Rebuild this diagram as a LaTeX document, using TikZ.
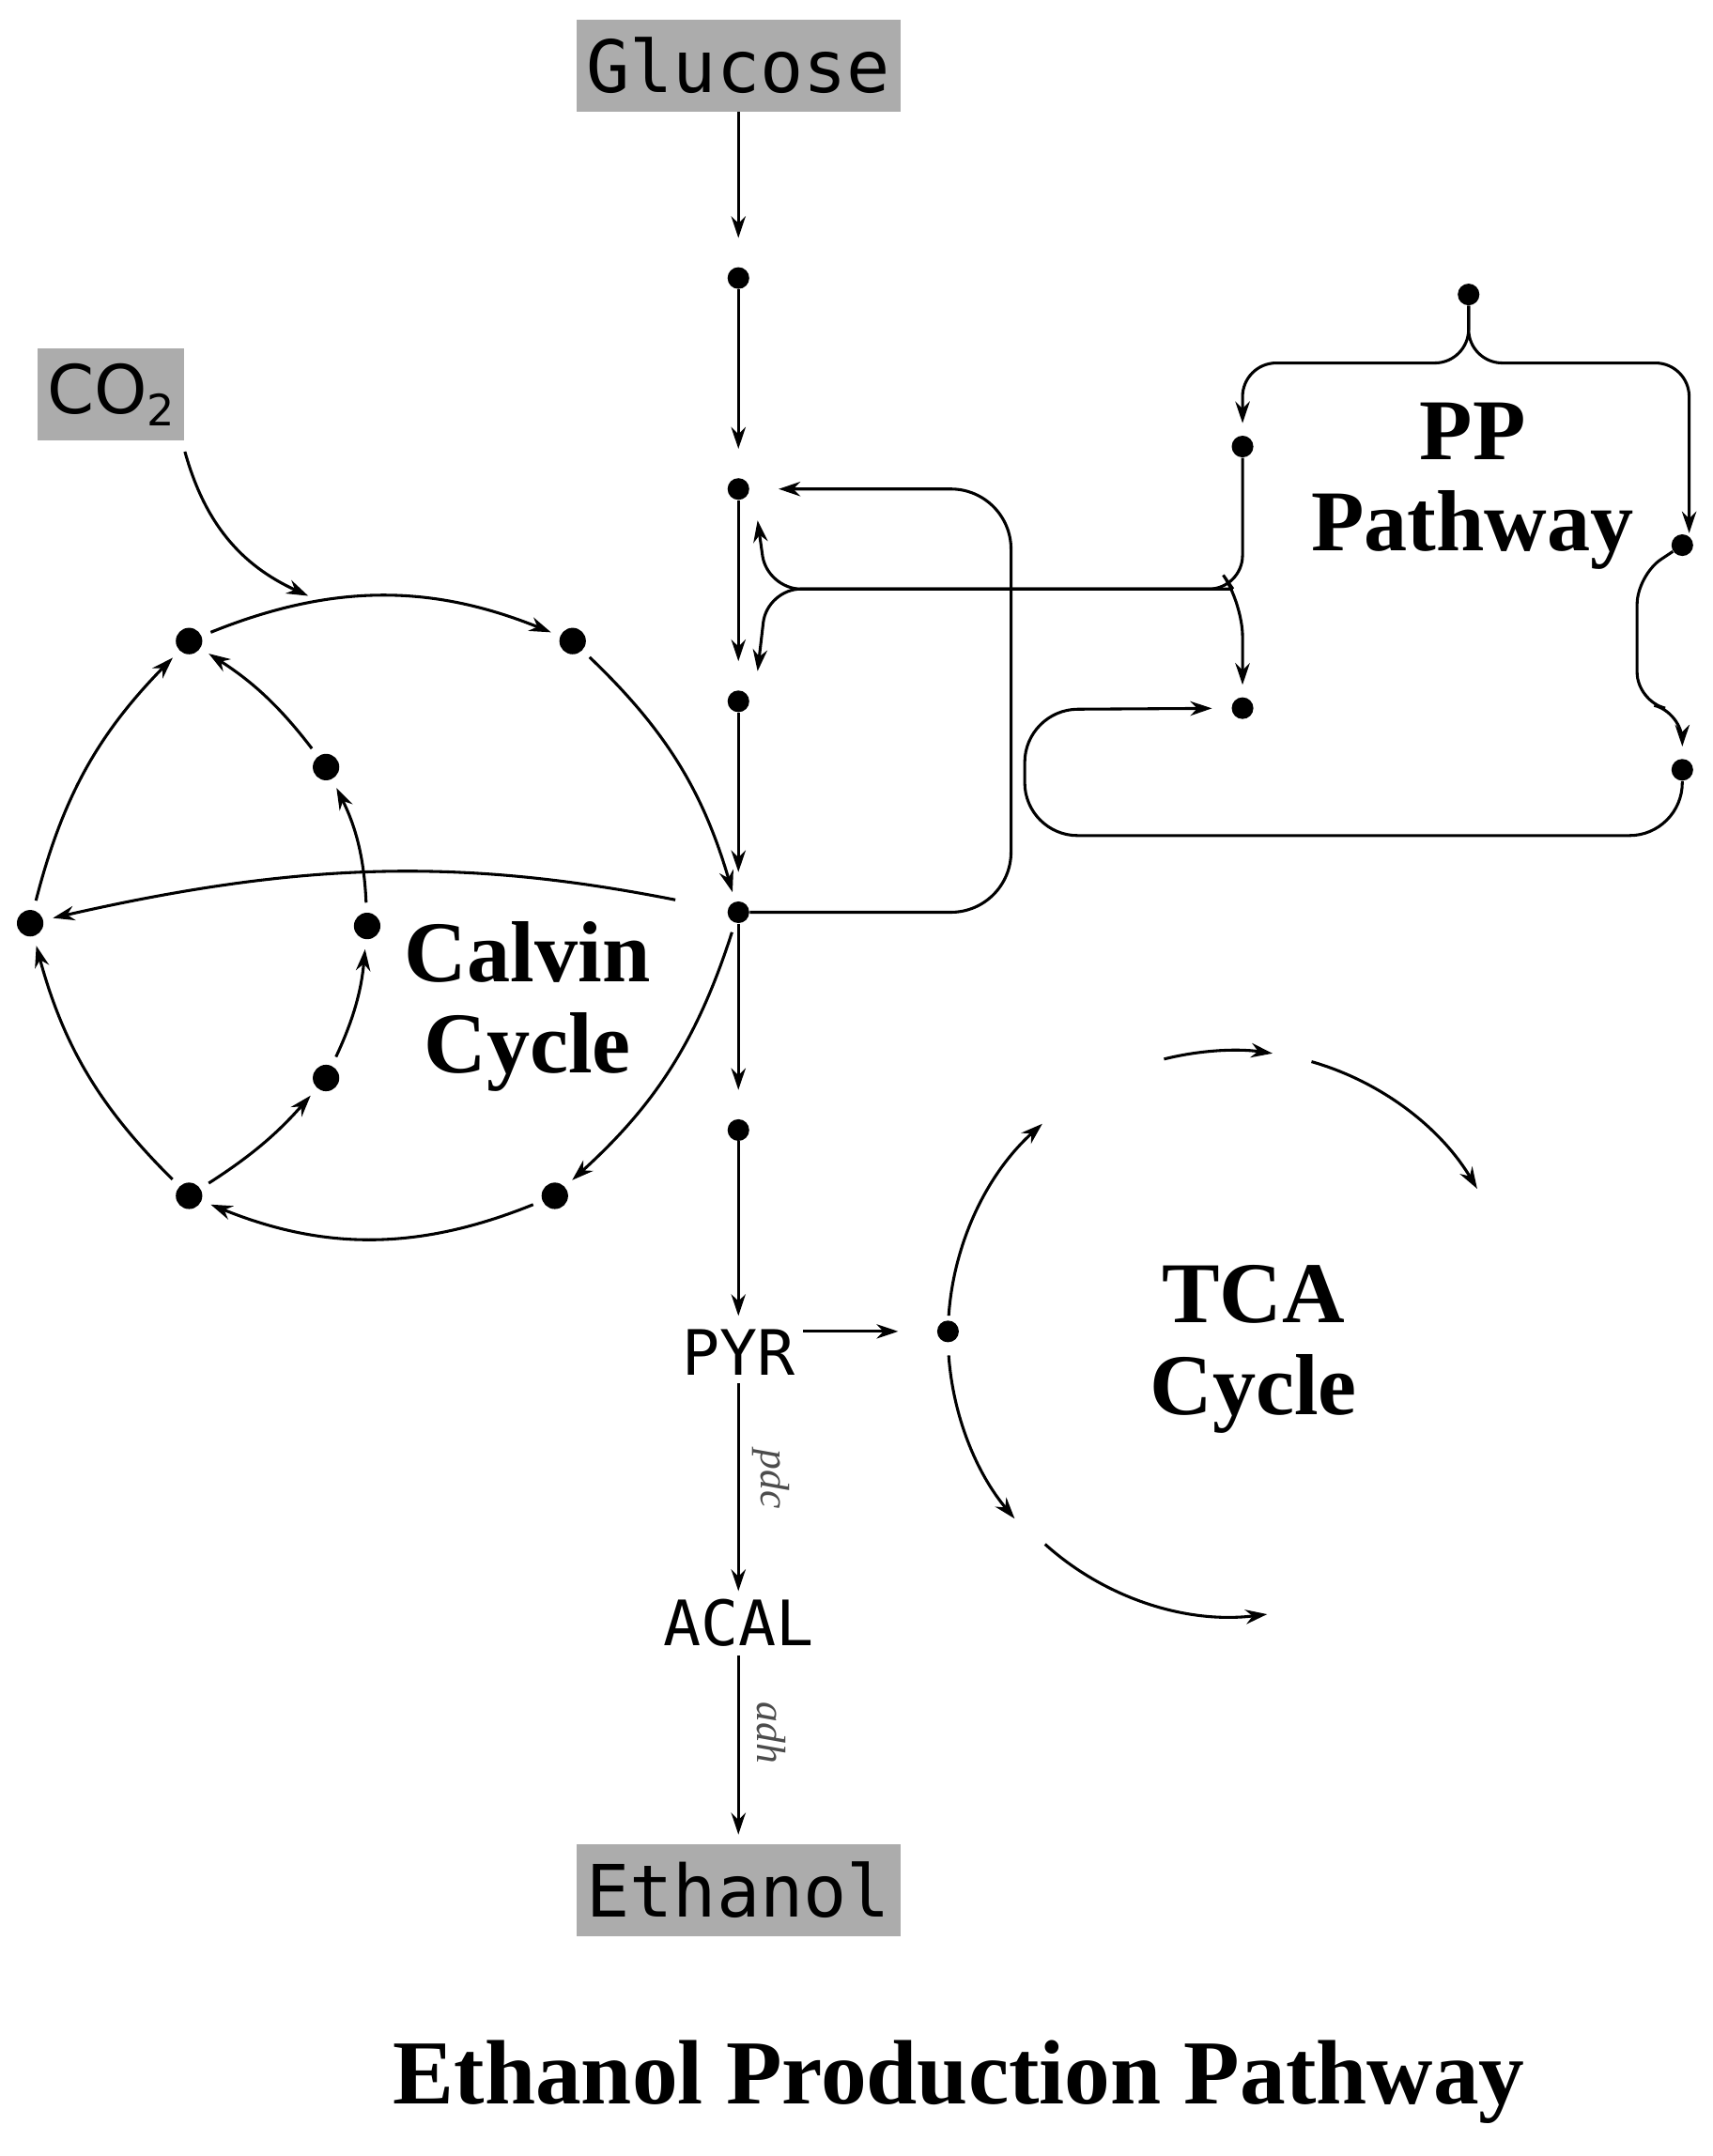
\documentclass[tikz,border=0pt]{standalone}
\usepackage{fontspec}
\setmainfont{Liberation Serif}
\newfontfamily\mono{DejaVu Sans Mono}
\newfontfamily\sansf{DejaVu Sans}
\usetikzlibrary{arrows.meta}
\begin{document}
\begin{tikzpicture}[x=0.02cm,y=0.02cm,
  dot/.style={circle,fill=black,inner sep=0pt,minimum size=9pt},
  bdot/.style={circle,fill=black,inner sep=0pt,minimum size=11pt},
  arr/.style={-{Stealth[length=9pt,width=6pt]},line width=1.2pt},
  box/.style={fill=gray!65,inner sep=4pt,font=\mono\fontsize{30}{30}\selectfont,minimum height=38pt},
  lab/.style={font=\mono\fontsize{26}{26}\selectfont},
  big/.style={font=\bfseries\fontsize{36}{38}\selectfont,align=center},
  enz/.style={font=\itshape\fontsize{17}{17}\selectfont,text=gray!60!black,rotate=-90}]
\useasboundingbox (0,0) rectangle (1250,-1574);
\node[box] (glu) at (539,-48) {Glucose};
\node[box] (eth) at (539,-1380) {Ethanol};
\node[box,font=\sansf\fontsize{28}{28}\selectfont] (co2) at (81,-288) {CO\raisebox{-5pt}{\fontsize{18}{18}\selectfont 2}};
\node[dot] (m1) at (539,-203) {};
\node[dot] (m2) at (539,-357) {};
\node[dot] (m3) at (539,-512) {};
\node[dot] (m4) at (539,-666) {};
\node[dot] (m5) at (539,-825) {};
\node[lab] (pyr) at (539,-987) {PYR};
\node[lab] (acal) at (539,-1185) {ACAL};
\draw[arr,shorten >=12pt] (glu) -- (m1);
\draw[arr,shorten >=12pt] (m1) -- (m2);
\draw[arr,shorten >=12pt] (m2) -- (m3);
\draw[arr,shorten >=12pt] (m3) -- (m4);
\draw[arr,shorten >=12pt] (m4) -- (m5);
\draw[arr,shorten >=2pt] (m5) -- (pyr);
\draw[arr] (pyr) -- (acal);
\draw[arr,shorten >=4pt] (acal) -- (eth);
\node[enz] (pdc) at (563,-1080) {pdc};
\node[enz] (adh) at (563,-1265) {adh};
% Calvin
\node[bdot] (c1) at (138,-468) {};
\node[bdot] (c2) at (418,-468) {};
\node[bdot] (c3) at (405,-873) {};
\node[bdot] (c4) at (138,-873) {};
\node[bdot] (c5) at (22,-674) {};
\node[bdot] (c6) at (238,-560) {};
\node[bdot] (c7) at (268,-676) {};
\node[bdot] (c8) at (238,-787) {};
\draw[arr,shorten >=4pt,shorten <=4pt] (c1) to[bend left=22] (c2);
\draw[arr,shorten >=4pt,shorten <=4pt] (c2) to[bend left=15] (m4);
\draw[arr,shorten >=4pt,shorten <=4pt] (m4) to[bend left=15] (c3);
\draw[arr,shorten >=4pt,shorten <=4pt] (c3) to[bend left=22] (c4);
\draw[arr,shorten >=4pt,shorten <=4pt] (c4) to[bend left=15] (c5);
\draw[arr,shorten >=4pt,shorten <=4pt] (c5) to[bend left=15] (c1);
\draw[arr,shorten >=4pt,shorten <=4pt] (c4) to[bend right=8] (c8);
\draw[arr,shorten >=4pt,shorten <=4pt] (c8) to[bend right=10] (c7);
\draw[arr,shorten >=4pt,shorten <=4pt] (c7) to[bend right=12] (c6);
\draw[arr,shorten >=4pt,shorten <=4pt] (c6) to[bend right=10] (c1);
\draw[arr,shorten >=4pt,shorten <=22pt] (m4) to[bend right=12] (c5);
\coordinate (ca) at (225,-435);
\draw[arr] (co2.south east) ++(0,-8) to[bend right=25] (ca);
\node[big] (calvin) at (385,-735) {Calvin\\Cycle};
% PP
\node[dot] (pt) at (1072,-215) {};
\node[dot] (p1) at (907,-326) {};
\node[dot] (p2) at (1228,-398) {};
\node[dot] (p3) at (907,-517) {};
\node[dot] (p4) at (1228,-562) {};
\node[big] (pp) at (1075,-355) {PP\\Pathway};
\coordinate (pb) at (1072,-265);
\draw[arr,rounded corners=14pt,shorten >=5pt] (pt) -- (pb) -- (907,-265) -- (p1);
\draw[arr,rounded corners=14pt,shorten >=5pt] (pt) -- (pb) -- (1233,-265) -- (1233,-398);
\coordinate (qb) at (900,-430);
\draw[arr,rounded corners=14pt] (p1) -- (907,-430) -- (560,-430) -- (553,-380);
\draw[arr,rounded corners=14pt] (qb) -- (560,-430) -- (553,-490);
\draw[arr,rounded corners=14pt,shorten >=5pt] (qb) -- (907,-440) -- (p3);
\draw[arr,rounded corners=12pt,shorten >=5pt] (p2) -- (1195,-420) -- (1195,-512) -- (1228,-520) -- (p4);
\draw[arr,rounded corners=22pt,shorten >=8pt] (p4) -- (1228,-610) -- (748,-610) -- (748,-518) -- (p3);
\draw[arr,rounded corners=25pt,shorten >=12pt] (m4) -- (738,-666) -- (738,-357) -- (m2);
% TCA
\node[dot] (t0) at (692,-972) {};
\coordinate (tc) at (900,-975);
\draw[arr,shorten >=16pt] (pyr.east |- t0) -- (t0);
\draw[arr] ([shift={(176:208)}]tc) arc (176:132:208);
\draw[arr] ([shift={(104:208)}]tc) arc (104:82:208);
\draw[arr] ([shift={(74:208)}]tc) arc (74:31:208);
\draw[arr] ([shift={(184:208)}]tc) arc (184:220:208);
\draw[arr] ([shift={(228:205)}]tc) arc (228:277:205);
\node[big] (tca) at (915,-985) {TCA\\Cycle};
\node[font=\bfseries\fontsize{38}{38}\selectfont] (title) at (700,-1520) {Ethanol Production Pathway};
\end{tikzpicture}
\end{document}
